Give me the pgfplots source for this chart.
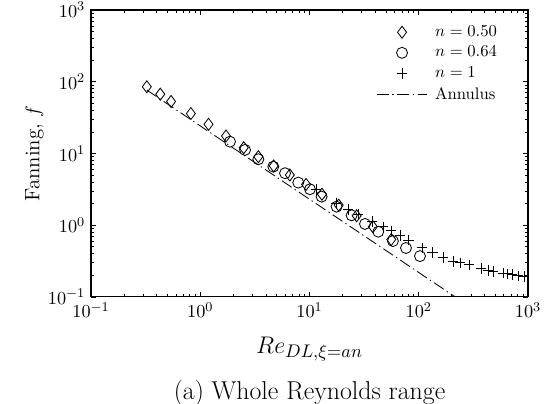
\documentclass[border=0pt]{standalone}
\usepackage{pgfplots}
\pgfplotsset{compat=1.18}
\begin{document}
\begin{tikzpicture}
\begin{loglogaxis}[
  name=ax,
  scale only axis,
  width=262pt, height=172pt,
  xmin=0.1, xmax=1000, ymin=0.1, ymax=1000,
  xtick={0.1,1,10,100,1000}, ytick={0.1,1,10,100,1000},
  major tick length=3pt, minor tick length=1.7pt,
  axis line style={line width=0.7pt},
  every tick/.style={black, line width=0.4pt},
  tick label style={font=\fontsize{11}{13}\selectfont},
  xlabel={$Re_{DL,\xi=an}$},
  xlabel style={font=\fontsize{15}{18}\selectfont, at={(axis description cs:0.5,-0.12)}, anchor=north},
  ylabel={Fanning, $f$},
  ylabel style={font=\fontsize{12.5}{15}\selectfont, at={(axis description cs:-0.095,0.5)}, anchor=south},
  legend style={draw=none, fill=none, at={(axis description cs:0.641,0.97)}, anchor=north west, legend cell align=left, font=\normalsize, row sep=0.4pt, nodes={inner xsep=4.5pt}},
  legend image code/.code={\draw[mark repeat=2,mark phase=2,#1] plot coordinates {(0cm,0cm) (0.53cm,0cm) (1.06cm,0cm)};},
]
\addplot[only marks, mark=diamond, mark size=3.6pt, mark options={line width=0.5pt, black}] coordinates {
(0.324,85) (0.43,67) (0.54,53) (0.82,36) (1.19,25.5) (1.72,17.5) (2.5,12) (3.4,9.0)
(4.7,6.7) (6.6,5.0) (9.3,3.7) (13.0,2.7) (18.5,1.9) (27,1.35) (38,0.95) (56,0.63)
};
\addlegendentry{$n=0.50$}
\addplot[only marks, mark=o, mark size=3.3pt, mark options={line width=0.5pt, black}] coordinates {
(1.87,14.6) (2.57,11.2) (3.40,8.3) (4.66,6.55) (5.97,5.30) (7.89,3.92) (10.1,3.17)
(12.9,2.50) (17.7,1.81) (24.3,1.37) (32.2,1.04) (42.6,0.81) (58,0.60) (76.4,0.48) (102.6,0.37)
};
\addlegendentry{$n=0.64$}
\addplot[only marks, mark=+, mark size=3.2pt, mark options={line width=0.5pt, black}] coordinates {
(11.5,3.15) (17.5,2.04) (22.5,1.66) (27.8,1.43) (37.3,1.13) (47.1,0.946) (55.7,0.831)
(67.4,0.719) (80.5,0.622) (107,0.482) (134,0.417) (167,0.357) (206,0.310) (239,0.298)
(288,0.279) (372,0.251) (430,0.234) (478,0.225) (590,0.214) (642,0.209) (714,0.203)
(810,0.196) (919,0.192)
};
\addlegendentry{$n=1$}
\addplot[black, line width=0.5pt, dash pattern=on 7pt off 2.2pt on 0.8pt off 2.2pt] coordinates {
(0.324,76.5) (215,0.1)
};
\addlegendentry{Annulus}
\end{loglogaxis}
\node[font=\fontsize{15.5}{18}\selectfont] at ([yshift=-57.5pt]ax.south) {(a) Whole Reynolds range};
\pgfresetboundingbox
\path ([xshift=-54.6pt,yshift=-64.2pt]ax.south west) rectangle ([xshift=13.2pt,yshift=6pt]ax.north east);
\end{tikzpicture}
\end{document}
